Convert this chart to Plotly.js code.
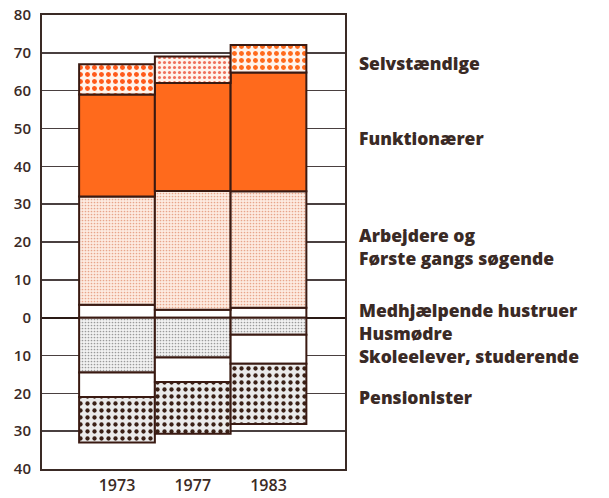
<!DOCTYPE html>
<html>
<head>
<meta charset="utf-8">
<script src="https://cdn.plot.ly/plotly-3.0.1.min.js"></script>
<style>html,body{margin:0;padding:0;background:#fff;}#chart{width:609px;height:498px;}</style>
</head>
<body>
<div id="chart"></div>
<script>
const years = ["1973", "1977", "1983"];
// positive side (stacked upward)
const medhjaelpende = [3.4, 2.1, 2.6];
const arbejdere = [28.6, 31.4, 30.8];
const funktionaerer = [27.0, 28.5, 31.4];
const selvstaendige = [8.0, 7.0, 7.3];
// negative side (stacked downward)
const husmoedre = [-14.5, -10.5, -4.5];
const skoleelever = [-6.5, -6.5, -7.7];
const pensionister = [-12.0, -13.7, -15.9];

const labelNames = ["Selvstændige", "Funktionærer", "Arbejdere og<br>Første gangs søgende",
  "Medhjælpende hustruer<br>Husmødre<br>Skoleelever, studerende", "Pensionister"];
const labelY = [67.4, 47.6, 18.7, -4.0, -20.9];

const yTickVals = [-40, -30, -20, -10, 0, 10, 20, 30, 40, 50, 60, 70, 80];
const yTickText = ["40", "30", "20", "10", "0", "10", "20", "30", "40", "50", "60", "70", "80"];

const edge = {color: "#3a1a12", width: 2};
function bar(y, name, color, pattern) {
  const m = {color: color, line: edge};
  if (pattern) m.pattern = pattern;
  return {type: "bar", x: years, y: y, name: name, marker: m, hoverinfo: "skip"};
}

const traces = [
  bar(medhjaelpende, "Medhjælpende hustruer", "#ffffff"),
  bar(arbejdere, "Arbejdere", "#fce6da", {shape: ".", fgcolor: "#e8a58a", bgcolor: "#fdebe1", size: 3, solidity: 0.25}),
  bar(funktionaerer, "Funktionærer", "#ff6a1c"),
  bar(selvstaendige, "Selvstændige", "#fff3ea", {shape: ".", fgcolor: ["#ff5a1a", "#f0705a", "#ff6a1c"], bgcolor: "#fff4ec", size: [7, 5, 7], solidity: [0.4, 0.3, 0.4]}),
  bar(husmoedre, "Husmødre", "#eeeeee", {shape: ".", fgcolor: "#9a9a9a", bgcolor: "#f2f2f2", size: 3, solidity: 0.25}),
  bar(skoleelever, "Skoleelever", "#ffffff"),
  bar(pensionister, "Pensionister", "#e8e8e8", {shape: ".", fgcolor: "#3a2016", bgcolor: "#eaeaea", size: 7, solidity: 0.3})
];

const annotations = labelNames.map((t, i) => ({
  text: t, xref: "paper", yref: "y", x: 1.04, y: labelY[i], xanchor: "left", yanchor: "middle", align: "left",
  showarrow: false, font: {family: "'Open Sans', Lato, sans-serif", size: 17.5, color: "#3a2a25", weight: 800}
}));

const layout = {
  width: 609, height: 498,
  margin: {l: 42, r: 264, t: 15, b: 29},
  paper_bgcolor: "#ffffff", plot_bgcolor: "#ffffff",
  barmode: "relative", bargap: 0,
  showlegend: false,
  font: {family: "Lato, 'DejaVu Sans', sans-serif", color: "#3a2a25"},
  xaxis: {
    type: "category", range: [-0.99, 3.01],
    showgrid: false, zeroline: false, ticks: "",
    showline: true, mirror: true, linecolor: "#3a2a25", linewidth: 2,
    tickfont: {family: "'Open Sans', Lato, sans-serif", size: 16, color: "#3a2a25", weight: 600}, ticklabelstandoff: 1
  },
  yaxis: {
    range: [-40, 80], tickvals: yTickVals, ticktext: yTickText,
    showgrid: true, gridcolor: "#4a4040", gridwidth: 1.5,
    zeroline: true, zerolinecolor: "#2a1a15", zerolinewidth: 2,
    showline: true, mirror: true, linecolor: "#3a2a25", linewidth: 2, ticks: "",
    tickfont: {family: "'Open Sans', Lato, sans-serif", size: 15, color: "#3a2a25", weight: 600}, ticklabelstandoff: 6
  },
  annotations: annotations
};

Plotly.newPlot("chart", traces, layout, {displayModeBar: false, staticPlot: true});
</script>
</body>
</html>
